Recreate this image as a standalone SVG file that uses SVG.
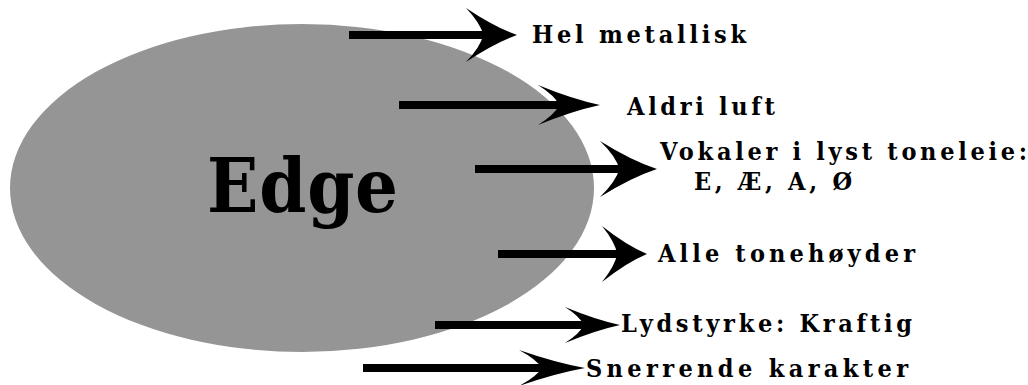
<svg xmlns="http://www.w3.org/2000/svg" width="1028" height="385" viewBox="0 0 1028 385">
<style>
.lbl{font-family:"DejaVu Serif Condensed","DejaVu Serif","Liberation Serif",serif;font-stretch:condensed;font-weight:bold;font-size:25px;fill:#000}
.big{font-family:"DejaVu Serif Condensed","DejaVu Serif","Liberation Serif",serif;font-stretch:condensed;font-weight:bold;font-size:75px;fill:#000}
.ln{stroke:#000;stroke-width:8;fill:none}
.hd{fill:#000}
</style>
<defs>
<path id="ah" d="M0,0 Q-0.45,-0.3 -1,-1 Q-0.72,-0.45 -0.66,0 Q-0.72,0.45 -1,1 Q-0.45,0.3 0,0 Z"/>
</defs>
<rect width="1028" height="385" fill="#fff"/>
<g id="edge">
<ellipse cx="302" cy="188" rx="292" ry="164" fill="#959595"/>
<text class="big" x="207" y="212" textLength="191" lengthAdjust="spacing">Edge</text>
</g>
<g id="connectors">
<line class="ln" x1="349" y1="35" x2="490" y2="35"/>
<use href="#ah" class="hd" transform="translate(517,35) scale(51,27)"/>
<line class="ln" x1="399" y1="105" x2="565" y2="105"/>
<use href="#ah" class="hd" transform="translate(600,105) scale(62,20)"/>
<line class="ln" x1="475" y1="169" x2="630" y2="169"/>
<use href="#ah" class="hd" transform="translate(657,169) scale(57,28)"/>
<line class="ln" x1="498" y1="254" x2="625" y2="254"/>
<use href="#ah" class="hd" transform="translate(647,254) scale(45,28)"/>
<line class="ln" x1="435" y1="325" x2="590" y2="325"/>
<use href="#ah" class="hd" transform="translate(620,325) scale(55,18)"/>
<line class="ln" x1="363" y1="368" x2="550" y2="368"/>
<use href="#ah" class="hd" transform="translate(585,368) scale(66,18)"/>
</g>
<g id="n1"><text class="lbl" x="532" y="43" textLength="214" lengthAdjust="spacing">Hel metallisk</text></g>
<g id="n2"><text class="lbl" x="627" y="115" textLength="148" lengthAdjust="spacing">Aldri luft</text></g>
<g id="n3"><text class="lbl" x="660" y="160" textLength="367" lengthAdjust="spacing">Vokaler i lyst toneleie:</text>
<text class="lbl" x="694" y="190" textLength="158" lengthAdjust="spacing">E, Æ, A, Ø</text></g>
<g id="n4"><text class="lbl" x="658" y="262" textLength="257" lengthAdjust="spacing">Alle tonehøyder</text></g>
<g id="n5"><text class="lbl" x="621" y="332" textLength="291" lengthAdjust="spacing">Lydstyrke: Kraftig</text></g>
<g id="n6"><text class="lbl" x="586" y="377" textLength="322" lengthAdjust="spacing">Snerrende karakter</text></g>
</svg>
